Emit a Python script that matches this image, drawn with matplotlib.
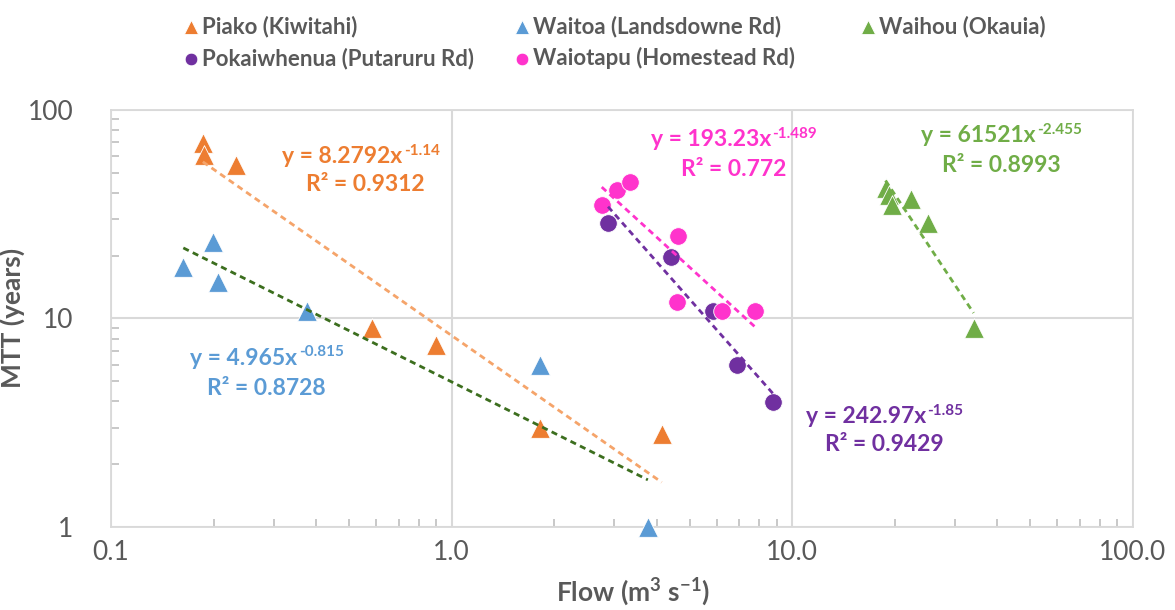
import numpy as np
import matplotlib.pyplot as plt
from matplotlib.ticker import FixedLocator, NullFormatter, FixedFormatter

plt.rcParams['font.family'] = ['Lato', 'DejaVu Sans']

#--- data (flow m3/s, MTT years)
piako_q = [0.186, 0.188, 0.233, 0.583, 0.90, 1.82, 4.14]
piako_t = [69.5, 60.8, 54.5, 9.0, 7.46, 2.98, 2.79]
waitoa_q = [0.163, 0.199, 0.206, 0.376, 1.82, 3.77]
waitoa_t = [17.7, 23.3, 15.0, 10.9, 5.98, 1.0]
waihou_q = [18.8, 19.3, 19.6, 22.3, 25.0, 34.1]
waihou_t = [42.3, 39.1, 35.0, 37.4, 28.7, 9.0]
pokai_q = [2.88, 4.40, 5.85, 6.88, 8.77]
pokai_t = [28.7, 19.7, 10.9, 5.98, 3.98]
waiot_q = [2.76, 3.05, 3.34, 4.62, 4.58, 6.21, 7.77]
waiot_t = [35.0, 41.3, 45.1, 24.9, 12.0, 10.9, 10.9]

#--- power-law fits y = a*x^b, R2
piako_fit = [8.2792, -1.14, 0.9312]
waitoa_fit = [4.965, -0.815, 0.8728]
waihou_fit = [61521, -2.455, 0.8993]
pokai_fit = [242.97, -1.85, 0.9429]
waiot_fit = [193.23, -1.489, 0.772]

c_or = '#ED7D31'
c_bl = '#5B9BD5'
c_gr = '#70AD47'
c_pu = '#7030A0'
c_pk = '#FF33CC'
grey = '#595959'

fig = plt.figure(figsize=(11.75, 6.1), dpi=100)
ax = fig.add_axes([0.0945, 0.136, 0.8695, 0.684])
ax.set_xscale('log')
ax.set_yscale('log')
ax.set_xlim(0.1, 100)
ax.set_ylim(1, 100)

def trend(q, fit, col):
	xs = np.logspace(np.log10(min(q)), np.log10(max(q)), 50)
	ax.plot(xs, fit[0] * xs ** fit[1], color=col, lw=2.0, ls=(0, (2.2, 1.6)), zorder=4)

trend(piako_q, piako_fit, '#F5A46A')
trend(waitoa_q, waitoa_fit, '#3C6E1E')
trend(waihou_q, waihou_fit, c_gr)
trend(pokai_q, pokai_fit, c_pu)
trend(waiot_q, waiot_fit, c_pk)

kw = dict(edgecolor='white', lw=0.6, zorder=3, clip_on=False)
h1 = ax.scatter(piako_q, piako_t, marker='^', s=200, color=c_or, label='Piako (Kiwitahi)', **kw)
h2 = ax.scatter(pokai_q, pokai_t, marker='o', s=160, color=c_pu, label='Pokaiwhenua (Putaruru Rd)', **kw)
h3 = ax.scatter(waitoa_q, waitoa_t, marker='^', s=200, color=c_bl, label='Waitoa (Landsdowne Rd)', **kw)
h4 = ax.scatter(waiot_q, waiot_t, marker='o', s=160, color=c_pk, label='Waiotapu (Homestead Rd)', **kw)
h5 = ax.scatter(waihou_q, waihou_t, marker='^', s=200, color=c_gr, label='Waihou (Okauia)', **kw)

#--- equations, line 1 centred (main text + superscript), line 2 centred
r = fig.canvas.get_renderer()
axbox = ax.get_window_extent(r)

def eq(x1, y1, x2, y2, fit, col):
	t = ax.text(x1, y1, 'y = %g' % fit[0] + 'x', transform=ax.transAxes,
		ha='left', va='center', color=col, fontsize=16.5, fontweight='bold')
	e = ax.annotate('%g' % fit[1], xy=(1, 0.78), xycoords=t, xytext=(0.8, 0), textcoords='offset points',
		ha='left', va='center', color=col, fontsize=11, fontweight='bold')
	w = t.get_window_extent(r).width + e.get_window_extent(r).width + 1
	t.set_x(x1 - 0.5 * w / axbox.width)
	ax.text(x2, y2, 'R² = %g' % fit[2], transform=ax.transAxes,
		ha='center', va='center', color=col, fontsize=16.5, fontweight='bold')

eq(0.2446, 0.887, 0.2485, 0.820, piako_fit, c_or)
eq(0.1526, 0.405, 0.1517, 0.333, waitoa_fit, c_bl)
eq(0.6096, 0.928, 0.6096, 0.858, waiot_fit, c_pk)
eq(0.8718, 0.938, 0.8710, 0.866, waihou_fit, c_gr)
eq(0.7573, 0.264, 0.7573, 0.197, pokai_fit, c_pu)

#--- axes style
for s in ax.spines.values():
	s.set_color('#D9D9D9')
	s.set_linewidth(1.3)
ax.grid(True, which='major', color='#D9D9D9', lw=1.5)
ax.set_axisbelow(True)
ax.xaxis.set_major_locator(FixedLocator([0.1, 1, 10, 100]))
ax.xaxis.set_major_formatter(FixedFormatter(['0.1', '1.0', '10.0', '100.0']))
ax.yaxis.set_major_locator(FixedLocator([1, 10, 100]))
ax.yaxis.set_major_formatter(FixedFormatter(['1', '10', '100']))
ax.tick_params(which='major', length=0, labelsize=19, colors=grey)
ax.tick_params(axis='x', which='major', pad=9)
ax.tick_params(axis='y', which='major', pad=27)
ax.tick_params(which='minor', direction='in', length=6, width=1.2, color='#BFBFBF')
ax.xaxis.set_minor_formatter(NullFormatter())
ax.yaxis.set_minor_formatter(NullFormatter())

ax.set_xlabel('Flow (m$^{\\mathregular{3}}$ s$^{\\mathregular{-1}}$)', fontsize=19, fontweight='bold', color=grey)
ax.xaxis.set_label_coords(0.511, -0.116)
ax.set_ylabel('MTT (years)', fontsize=19, fontweight='bold', color=grey)
ax.yaxis.set_label_coords(-0.084, 0.5)

#--- legend: two columns + Waihou on its own
lkw = dict(frameon=False, prop={'size': 16, 'weight': 'bold'}, labelcolor=grey, handletextpad=0.1,
	labelspacing=0.45, handlelength=0.8, markerscale=0.72, borderaxespad=0.3)
fig.legend(handles=[h1, h2, h3, h4], loc='upper left', bbox_to_anchor=(0.142, 1.0), ncol=2,
	columnspacing=1.75, **lkw)
fig.legend(handles=[h5], loc='upper left', bbox_to_anchor=(0.7175, 1.0), **lkw)

plt.savefig('out.png', dpi=100)
